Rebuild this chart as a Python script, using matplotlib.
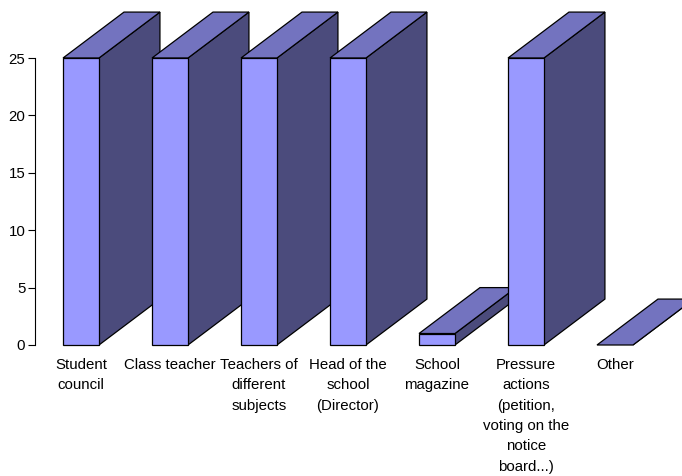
import matplotlib.pyplot as plt
from matplotlib.patches import Polygon

plt.rcParams['font.family'] = ['Liberation Sans', 'DejaVu Sans']

categories = ['Student\ncouncil', 'Class teacher', 'Teachers of\ndifferent\nsubjects',
              'Head of the\nschool\n(Director)', 'School\nmagazine',
              'Pressure\nactions\n(petition,\nvoting on the\nnotice\nboard...)', 'Other']
values = [25, 25, 25, 25, 1, 25, 0]
y_ticks = [0, 5, 10, 15, 20, 25]

front_color = '#9999FF'
side_color = '#4B4B7C'
top_color = '#7373BF'

# bar geometry in data units
bar_w = 0.404
depth_x = 0.685
depth_y = 4.0

fig = plt.figure(figsize=(6.82, 4.76), dpi=100)
ax = fig.add_axes([35 / 682, 131 / 476, 647 / 682, 345 / 476])

for i, v in enumerate(values):
    x0 = i - bar_w / 2
    x1 = i + bar_w / 2
    # side face
    side = Polygon([(x1, 0), (x1 + depth_x, depth_y), (x1 + depth_x, v + depth_y), (x1, v)],
                   closed=True, facecolor=side_color, edgecolor='black', linewidth=0.9, clip_on=False)
    # top face
    top = Polygon([(x0, v), (x1, v), (x1 + depth_x, v + depth_y), (x0 + depth_x, v + depth_y)],
                  closed=True, facecolor=top_color, edgecolor='black', linewidth=0.9, clip_on=False)
    ax.add_patch(side)
    ax.add_patch(top)
    if v > 0:
        front = Polygon([(x0, 0), (x1, 0), (x1, v), (x0, v)],
                        closed=True, facecolor=front_color, edgecolor='black', linewidth=0.9, clip_on=False)
        ax.add_patch(front)
    ax.text(i, -1.15, categories[i], ha='center', va='top', fontsize=10.8,
            linespacing=1.57, clip_on=False)

ax.set_xlim(-0.517, 6.753)
ax.set_ylim(0, 345 * 25 / 287)
ax.set_yticks(y_ticks)
ax.set_xticks([])
ax.tick_params(axis='y', length=5, width=0.8, pad=2, labelsize=10.8)
for s in ['top', 'right', 'bottom']:
    ax.spines[s].set_visible(False)
ax.spines['left'].set_bounds(0, 25)
ax.spines['left'].set_linewidth(0.8)
ax.patch.set_visible(False)

fig.savefig('out.png', dpi=100)
